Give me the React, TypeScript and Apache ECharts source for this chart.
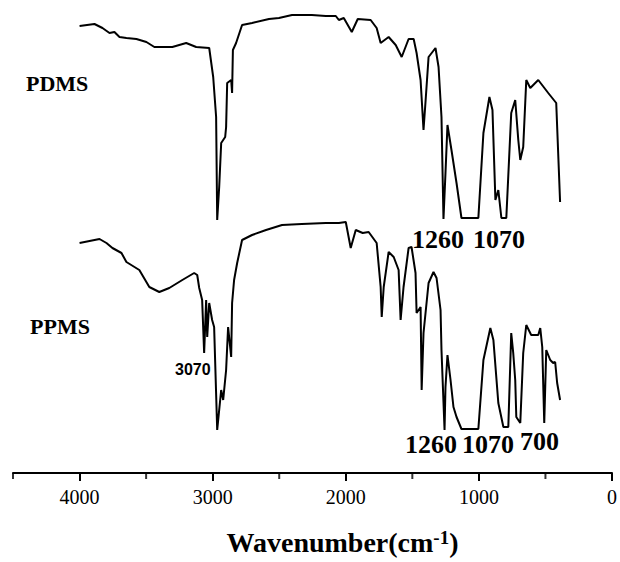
import React, { useEffect, useRef } from "react";
import * as echarts from "echarts";

// Wavenumber (cm^-1) and relative transmittance (a.u.)
const pdmsWavenumber = [4000,3888,3828,3775,3738,3700,3648,3573,3498,3438,3303,3199,3124,3026,2996,2974,2966,2951,2936,2906,2899,2891,2861,2854,2848,2824,2779,2704,2577,2502,2404,2255,2150,2075,2052,2015,1955,1910,1813,1768,1738,1678,1625,1580,1528,1490,1468,1438,1416,1400,1378,1326,1303,1281,1266,1251,1236,1206,1168,1131,1004,966,921,898,876,854,831,794,757,727,704,689,667,644,614,554,479,419,390];
const pdmsTransmittance = [447,449,445,440,441,436,435,434,431,426,426,430,426,425,396,356,253,286,330,336,346,390,393,380,423,430,448,450,454,455,458,458,457,457,453,455,441,454,453,445,430,436,428,416,434,434,420,393,343,373,416,425,406,356,254,300,348,323,290,255,255,340,376,363,273,283,255,255,360,373,333,313,326,393,385,393,380,370,271];

const ppmsWavenumber = [4000,3850,3798,3753,3685,3648,3551,3476,3401,3326,3228,3139,3116,3101,3079,3064,3049,3041,3026,3004,2989,2966,2936,2921,2899,2884,2861,2854,2839,2816,2779,2704,2599,2479,2330,2150,2052,2000,1963,1925,1873,1828,1768,1738,1730,1715,1678,1640,1603,1588,1566,1528,1506,1476,1468,1438,1430,1416,1378,1341,1318,1288,1281,1258,1251,1236,1213,1191,1168,1131,1004,966,914,891,854,816,779,757,742,727,719,689,667,644,607,554,539,524,509,494,464,442,427,412,390];
const ppmsTransmittance = [230,234,230,225,220,211,203,186,181,185,193,200,198,185,173,120,173,136,170,153,146,43,83,73,103,146,116,170,193,210,233,238,243,248,249,250,250,251,225,243,240,241,230,186,156,186,221,216,203,153,186,225,226,200,160,166,83,140,190,201,195,163,123,43,86,118,93,66,56,44,44,113,145,133,70,46,46,140,120,93,56,50,120,148,138,138,145,126,50,123,113,110,111,90,73];

const tickLabels = [0, 1000, 2000, 3000, 4000];
const minorTicks = [500, 1500, 2500, 3500, 4500];

const sampleNames = ["PDMS", "PPMS"];
const pdmsBands = ["1260", "1070"];
const ppmsBands = ["1260", "1070", "700"];
const ppmsAromatic = "3070";

const serif = "'Liberation Serif', 'Times New Roman', serif";

export default function App() {
  const ref = useRef<HTMLDivElement>(null);
  useEffect(() => {
    if (!ref.current) return;
    const chart = echarts.init(ref.current, undefined, { renderer: "svg" });
    const zip = (xs: number[], ys: number[]) => xs.map((x, i) => [x, ys[i]]);
    const bandText = (text: string, x: number, y: number, size: number, family = serif) => ({
      type: "text",
      left: x,
      top: y,
      style: { text, font: `bold ${size}px ${family}`, fill: "#000" },
    });
    chart.setOption({
      animation: false,
      backgroundColor: "#fff",
      grid: { left: 13, right: 6, top: 0, bottom: 89, containLabel: false },
      xAxis: {
        type: "value",
        inverse: true,
        min: 0,
        max: 4500,
        interval: 500,
        splitLine: { show: false },
        axisLine: { lineStyle: { color: "#000", width: 2 } },
        axisTick: { show: true, length: 8, lineStyle: { width: 2, color: "#000" }, customValues: tickLabels },
        axisLabel: {
          customValues: tickLabels,
          formatter: (v: number) => String(v),
          margin: 14,
          fontFamily: serif,
          fontSize: 20,
          color: "#000",
        },
        name: "{a|Wavenumber(cm}{s|-1}{a|)}",
        nameLocation: "middle",
        nameGap: 55,
        nameTextStyle: {
          padding: [0, 0, 0, 60],
          rich: {
            a: { fontFamily: serif, fontWeight: "bold", fontSize: 28, color: "#000" },
            s: { fontFamily: serif, fontWeight: "bold", fontSize: 19, color: "#000", verticalAlign: "top" },
          },
        },
      },
      yAxis: { type: "value", min: 0, max: 473, show: false },
      series: [
        {
          name: sampleNames[0],
          type: "line",
          data: zip(pdmsWavenumber, pdmsTransmittance),
          showSymbol: false,
          lineStyle: { color: "#000", width: 2 },
        },
        {
          name: sampleNames[1],
          type: "line",
          data: zip(ppmsWavenumber, ppmsTransmittance),
          showSymbol: false,
          lineStyle: { color: "#000", width: 2 },
        },
        {
          name: "minor ticks",
          type: "scatter",
          data: minorTicks.map((v) => [v, 0]),
          symbol: "rect",
          symbolSize: [2, 6],
          symbolOffset: [0, 3],
          itemStyle: { color: "#000" },
          clip: false,
          silent: true,
          z: 5,
        },
      ],
      graphic: [
        bandText(sampleNames[0], 26, 72, 22),
        bandText(sampleNames[1], 30, 315, 22),
        bandText(pdmsBands[0], 412, 226, 26),
        bandText(pdmsBands[1], 473, 226, 26),
        bandText(ppmsBands[0], 405, 431, 26),
        bandText(ppmsBands[1], 462, 431, 26),
        bandText(ppmsBands[2], 520, 428, 26),
        bandText(ppmsAromatic, 175, 361, 16, "'Liberation Sans', Arial, sans-serif"),
      ],
    });
    return () => chart.dispose();
  }, []);
  return <div ref={ref} style={{ position: "fixed", left: 0, top: 0, width: 620, height: 562 }} />;
}
